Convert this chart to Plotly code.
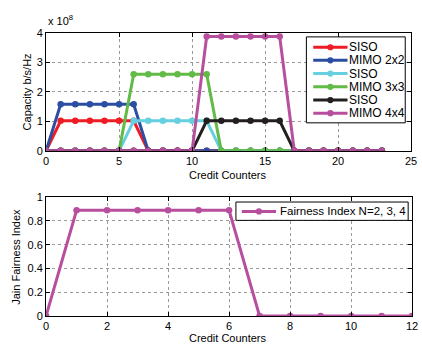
import plotly.graph_objects as go

# ---- data ----
x_top = list(range(0, 24))
cap_siso1 = [0, 1.02, 1.02, 1.02, 1.02, 1.02, 1.02] + [0] * 17
cap_mimo2 = [0, 1.58, 1.58, 1.58, 1.58, 1.58, 1.58] + [0] * 17
cap_siso2 = [0] * 6 + [1.02] * 6 + [0] * 12
cap_mimo3 = [0] * 6 + [2.6] * 6 + [0] * 12
cap_siso3 = [0] * 11 + [1.02] * 6 + [0] * 7
cap_mimo4 = [0] * 11 + [3.88] * 6 + [0] * 7
names_top = ["SISO", "MIMO 2x2", "SISO", "MIMO 3x3", "SISO", "MIMO 4x4"]
colors_top = ["#ee1c24", "#2b4ea2", "#66cfe0", "#62bb46", "#231f20", "#b84f9e"]

x_bot = list(range(0, 13))
fairness = [0, 0.89, 0.89, 0.89, 0.89, 0.89, 0.89, 0, 0, 0, 0, 0, 0]
name_bot = "Fairness Index N=2, 3, 4"
color_bot = "#b84f9e"

top_ticks = [0, 1, 2, 3, 4]
top_xticks = [0, 5, 10, 15, 20, 25]
bot_xticks = [0, 2, 4, 6, 8, 10, 12]
bot_yticks = [0, 0.2, 0.4, 0.6, 0.8, 1]

FONT = "Liberation Sans, Arial, sans-serif"
W, H = 422, 349


def px(x):
    return x / W


def py(y):
    return 1 - y / H


fig = go.Figure()
series = [cap_siso1, cap_mimo2, cap_siso2, cap_mimo3, cap_siso3, cap_mimo4]
for s, n, c in zip(series, names_top, colors_top):
    fig.add_trace(go.Scatter(x=x_top, y=s, name=n, mode="lines+markers",
                             line=dict(color=c, width=3),
                             marker=dict(color=c, size=6.5),
                             xaxis="x", yaxis="y", showlegend=False))

fig.add_trace(go.Scatter(x=x_bot, y=fairness, name=name_bot, mode="lines+markers",
                         line=dict(color=color_bot, width=3),
                         marker=dict(color=color_bot, size=6.5),
                         xaxis="x2", yaxis="y2", showlegend=False))

axis_common = dict(showline=True, linecolor="black", linewidth=1, mirror="ticks",
                   ticks="inside", ticklen=4, tickcolor="black",
                   showgrid=True, gridcolor="#9a9a9a", griddash="dot", gridwidth=1,
                   zeroline=False, ticklabeloverflow="allow",
                   tickfont=dict(size=11, color="black", family=FONT))

shapes = []
annotations = []


def legend_box(x0, y0, x1, y1):
    shapes.append(dict(type="rect", xref="paper", yref="paper",
                       x0=px(x0), x1=px(x1), y0=py(y1), y1=py(y0),
                       line=dict(color="black", width=1), fillcolor="white",
                       layer="above"))


def legend_item(lx0, lx1, ly, tx, text, color, fs):
    shapes.append(dict(type="line", xref="paper", yref="paper",
                       x0=px(lx0), x1=px(lx1), y0=py(ly), y1=py(ly),
                       line=dict(color=color, width=3), layer="above"))
    mx = (lx0 + lx1) / 2
    r = 3.2
    shapes.append(dict(type="circle", xref="paper", yref="paper",
                       x0=px(mx - r), x1=px(mx + r), y0=py(ly + r), y1=py(ly - r),
                       line=dict(color=color, width=0), fillcolor=color,
                       layer="above"))
    annotations.append(dict(text=text, x=px(tx), y=py(ly), xref="paper",
                            yref="paper", xanchor="left", yanchor="middle",
                            showarrow=False, font=dict(size=fs, color="black")))


# top legend
legend_box(310, 32, 411, 121)
row_y = [42.7, 56.3, 70.0, 83.7, 97.4, 111.0]
for yy, n, c in zip(row_y, names_top, colors_top):
    legend_item(317, 352, yy, 352, n, c, 12)

# bottom legend
legend_box(238, 203, 414, 222)
legend_item(244, 279, 212.7, 281, name_bot, color_bot, 11.5)

# axis titles
annotations += [
    dict(text="x 10<sup>8</sup>", x=px(44), y=py(24), xref="paper", yref="paper",
         xanchor="left", yanchor="bottom", showarrow=False, font=dict(size=11)),
    dict(text="Capacity b/s/Hz", x=px(24), y=py(89), xref="paper", yref="paper",
         xanchor="center", yanchor="middle", textangle=-90, showarrow=False,
         font=dict(size=11)),
    dict(text="Credit Counters", x=px(230), y=py(175), xref="paper", yref="paper",
         xanchor="center", yanchor="middle", showarrow=False, font=dict(size=11)),
    dict(text="Jain Fairness Index", x=px(13), y=py(260), xref="paper", yref="paper",
         xanchor="center", yanchor="middle", textangle=-90, showarrow=False,
         font=dict(size=11)),
    dict(text="Credit Counters", x=px(230), y=py(344), xref="paper", yref="paper",
         xanchor="center", yanchor="middle", showarrow=False, font=dict(size=11)),
]

fig.update_layout(
    width=W, height=H,
    margin=dict(l=0, r=0, t=0, b=0),
    paper_bgcolor="white", plot_bgcolor="white",
    font=dict(family=FONT, size=12, color="black"),
    xaxis=dict(domain=[px(44), px(417)], range=[0, 25], tickvals=top_xticks,
               anchor="y", **axis_common),
    yaxis=dict(domain=[py(150), py(28)], range=[0, 4], tickvals=top_ticks,
               anchor="x", **axis_common),
    xaxis2=dict(domain=[px(44), px(418)], range=[0, 12], tickvals=bot_xticks,
                anchor="y2", **axis_common),
    yaxis2=dict(domain=[py(321), py(198)], range=[0, 1], tickvals=bot_yticks,
                anchor="x2", **axis_common),
    showlegend=False,
    shapes=shapes,
    annotations=annotations,
)

fig.write_html("out.html")
